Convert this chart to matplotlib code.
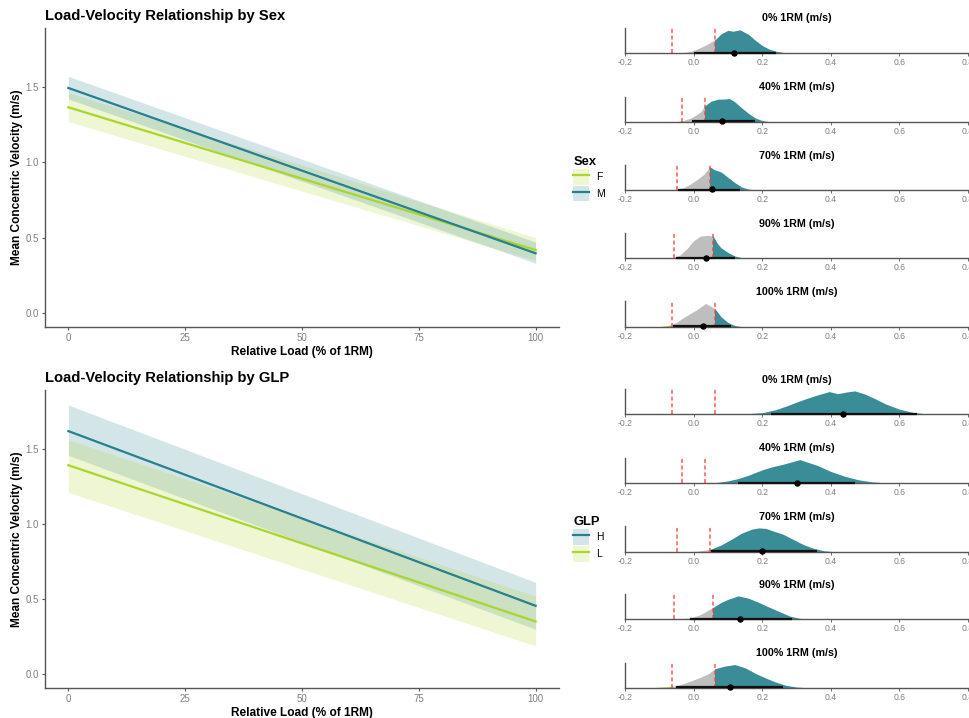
import numpy as np
import matplotlib
matplotlib.use("Agg")
import matplotlib.pyplot as plt
from matplotlib.patches import Patch, Rectangle
from matplotlib.lines import Line2D

plt.rcParams['font.family'] = ['Liberation Sans', 'DejaVu Sans']

# ---------------- data: line plots ----------------
load_x = [0, 100]
# Sex
sex_groups = ["F", "M"]
sex_fit = {"F": [1.365, 0.420], "M": [1.493, 0.398]}
sex_lo = {"F": [1.270, 0.350], "M": [1.420, 0.332]}
sex_hi = {"F": [1.462, 0.502], "M": [1.570, 0.472]}
# GLP
glp_groups = ["H", "L"]
glp_fit = {"H": [1.617, 0.456], "L": [1.390, 0.352]}
glp_lo = {"H": [1.456, 0.300], "L": [1.210, 0.190]}
glp_hi = {"H": [1.790, 0.612], "L": [1.560, 0.520]}

# ---------------- data: posterior densities ----------------
panel_titles = ["0% 1RM (m/s)", "40% 1RM (m/s)", "70% 1RM (m/s)",
                "90% 1RM (m/s)", "100% 1RM (m/s)"]
rope_sex = [0.063, 0.034, 0.049, 0.057, 0.063]
rope_glp = [0.063, 0.034, 0.049, 0.056, 0.062]

sex_dx = [
    [-0.06, -0.04, -0.02, 0.00, 0.02, 0.04, 0.063, 0.08, 0.10, 0.115, 0.135, 0.16, 0.18, 0.20, 0.22, 0.24, 0.26, 0.28, 0.30],
    [-0.05, -0.03, -0.01, 0.00, 0.02, 0.034, 0.05, 0.07, 0.09, 0.105, 0.12, 0.14, 0.16, 0.18, 0.20, 0.22],
    [-0.07, -0.05, -0.03, -0.01, 0.01, 0.03, 0.048, 0.06, 0.08, 0.10, 0.12, 0.14, 0.16, 0.18],
    [-0.08, -0.06, -0.04, -0.02, 0.00, 0.02, 0.04, 0.057, 0.07, 0.08, 0.10, 0.12, 0.14, 0.16],
    [-0.11, -0.09, -0.07, -0.05, -0.03, -0.01, 0.01, 0.035, 0.05, 0.063, 0.08, 0.10, 0.12, 0.14],
]
sex_dy = [
    [0.00, 0.02, 0.05, 0.12, 0.24, 0.38, 0.58, 0.82, 0.97, 0.93, 0.99, 0.80, 0.55, 0.33, 0.18, 0.09, 0.04, 0.01, 0.00],
    [0.00, 0.05, 0.15, 0.22, 0.42, 0.70, 0.88, 0.97, 0.98, 1.00, 0.86, 0.60, 0.36, 0.16, 0.05, 0.00],
    [0.00, 0.03, 0.10, 0.25, 0.45, 0.68, 1.00, 0.88, 0.78, 0.55, 0.32, 0.13, 0.04, 0.00],
    [0.00, 0.03, 0.14, 0.40, 0.75, 0.95, 0.98, 0.94, 0.62, 0.45, 0.25, 0.10, 0.03, 0.00],
    [0.00, 0.02, 0.06, 0.18, 0.38, 0.55, 0.72, 0.98, 0.86, 0.74, 0.42, 0.18, 0.05, 0.00],
]
sex_med = [0.117, 0.083, 0.055, 0.037, 0.027]
sex_int = [(0.000, 0.240), (-0.005, 0.180), (-0.045, 0.135), (-0.050, 0.120), (-0.060, 0.110)]

glp_dx = [
    [0.12, 0.16, 0.20, 0.24, 0.27, 0.30, 0.33, 0.36, 0.395, 0.42, 0.445, 0.47, 0.50, 0.53, 0.56, 0.60, 0.64, 0.68, 0.73],
    [0.03, 0.07, 0.10, 0.13, 0.16, 0.20, 0.23, 0.26, 0.29, 0.31, 0.33, 0.36, 0.40, 0.44, 0.48, 0.52, 0.56, 0.60],
    [-0.02, 0.01, 0.049, 0.08, 0.11, 0.14, 0.17, 0.19, 0.21, 0.23, 0.26, 0.29, 0.32, 0.35, 0.38, 0.41],
    [-0.07, -0.04, -0.01, 0.02, 0.056, 0.08, 0.10, 0.13, 0.16, 0.19, 0.22, 0.25, 0.28, 0.31, 0.34],
    [-0.13, -0.10, -0.07, -0.04, -0.01, 0.02, 0.045, 0.062, 0.09, 0.12, 0.15, 0.18, 0.21, 0.24, 0.27, 0.30, 0.33],
]
glp_dy = [
    [0.00, 0.03, 0.07, 0.20, 0.35, 0.52, 0.68, 0.82, 0.97, 0.88, 0.95, 1.00, 0.86, 0.66, 0.44, 0.22, 0.08, 0.02, 0.00],
    [0.00, 0.04, 0.10, 0.20, 0.34, 0.57, 0.70, 0.80, 0.92, 1.00, 0.90, 0.76, 0.50, 0.30, 0.15, 0.06, 0.02, 0.00],
    [0.00, 0.02, 0.10, 0.28, 0.52, 0.78, 0.95, 1.00, 0.98, 0.88, 0.74, 0.52, 0.30, 0.14, 0.04, 0.00],
    [0.00, 0.02, 0.06, 0.20, 0.50, 0.72, 0.85, 1.00, 0.90, 0.72, 0.52, 0.33, 0.14, 0.04, 0.00],
    [0.00, 0.02, 0.05, 0.12, 0.28, 0.45, 0.62, 0.82, 0.93, 1.00, 0.86, 0.62, 0.42, 0.24, 0.10, 0.03, 0.00],
]
glp_med = [0.435, 0.300, 0.200, 0.135, 0.105]
glp_int = [(0.225, 0.650), (0.130, 0.470), (0.050, 0.360), (-0.010, 0.287), (-0.050, 0.260)]

density_ticks = [-0.2, 0.0, 0.2, 0.4, 0.6, 0.8]
load_ticks = [0, 25, 50, 75, 100]
vel_ticks = [0.0, 0.5, 1.0, 1.5]

# ---------------- style ----------------
TEAL = "#2A7F8E"
LIME = "#AAD52A"
DENS_TEAL = "#3A8C96"
DENS_GREY = "#BEBEBE"
DENS_LIME = "#A8C83A"
SPINE = "#555555"
TICKLAB = "#808080"
group_col = {"F": LIME, "M": TEAL, "H": TEAL, "L": LIME}

W, H = 970, 718
fig = plt.figure(figsize=(W / 100, H / 100), dpi=100)


def ax_px(l, t, r, b):
    return fig.add_axes([l / W, 1 - b / H, (r - l) / W, (b - t) / H])


def line_panel(l, t, r, b, title, groups, fit, lo, hi, legend_title, leg_y):
    ax = ax_px(l, t, r, b)
    for g in groups:
        c = group_col[g]
        ax.fill_between(load_x, lo[g], hi[g], color=c, alpha=0.2, lw=0)
    for g in groups:
        ax.plot(load_x, fit[g], color=group_col[g], lw=1.6)
    ax.set_xlim(-5, 105)
    ax.set_ylim(-0.09, 1.89)
    ax.set_xticks(load_ticks)
    ax.set_xticklabels([str(v) for v in load_ticks])
    ax.set_yticks(vel_ticks)
    ax.set_yticklabels([f"{v:.1f}" for v in vel_ticks])
    for s in ["top", "right"]:
        ax.spines[s].set_visible(False)
    for s in ["left", "bottom"]:
        ax.spines[s].set_color(SPINE)
        ax.spines[s].set_linewidth(1.0)
    ax.tick_params(colors=SPINE, labelcolor=TICKLAB, labelsize=7.0, length=2.5, width=0.8, pad=2)
    ax.set_xlabel("Relative Load (% of 1RM)", fontsize=8.6, fontweight="bold", labelpad=2)
    ax.set_ylabel("Mean Concentric Velocity (m/s)", fontsize=8.6, fontweight="bold", labelpad=1.5)
    fig.text(l / W, 1 - (t - 12) / H, title, fontsize=10.6, fontweight="bold",
             ha="left", va="center")
    handles = []
    for g in groups:
        c = group_col[g]
        handles.append((Patch(facecolor=c, alpha=0.2, edgecolor="none"),
                        Line2D([], [], color=c, lw=1.6)))
    leg = fig.legend(handles, groups, title=legend_title, loc="upper left",
                     bbox_to_anchor=(569 / W, 1 - leg_y / H), frameon=False,
                     fontsize=7.5, title_fontsize=9.3, handlelength=1.5,
                     handleheight=1.9, handletextpad=0.7, labelspacing=0.12,
                     borderaxespad=0)
    leg.get_title().set_fontweight("bold")
    leg._legend_box.align = "left"
    return ax


line_panel(45, 28, 559, 327, "Load-Velocity Relationship by Sex",
           sex_groups, sex_fit, sex_lo, sex_hi, "Sex", 152)
line_panel(45, 390, 559, 688, "Load-Velocity Relationship by GLP",
           glp_groups, glp_fit, glp_lo, glp_hi, "GLP", 512)


def dens_panel(top, base, title, xs, ys, rope, med, intv):
    ax = ax_px(625, top, 968, base)
    for color, x0, x1 in [(DENS_LIME, -1, -rope), (DENS_GREY, -rope, rope), (DENS_TEAL, rope, 2)]:
        poly = ax.fill_between(xs, 0, ys, color=color, lw=0)
        poly.set_clip_path(Rectangle((x0, -1), x1 - x0, 3, transform=ax.transData))
    for v in (-rope, rope):
        ax.plot([v, v], [0, 1.1], color="#FF3A3A", lw=1.1, ls=(0, (2.6, 1.8)), alpha=0.85)
    ax.plot(list(intv), [0.01, 0.01], color="#111111", lw=1.6, solid_capstyle="butt", zorder=5, clip_on=False)
    ax.plot([med], [0.03], "o", color="black", ms=3.6, zorder=6, clip_on=False)
    ax.set_xlim(-0.2, 0.8)
    ax.set_ylim(0, 1.08)
    ax.set_yticks([])
    ax.set_xticks(density_ticks)
    ax.set_xticklabels([f"{v:.1f}" for v in density_ticks])
    for s in ["top", "right"]:
        ax.spines[s].set_visible(False)
    for s in ["left", "bottom"]:
        ax.spines[s].set_color(SPINE)
        ax.spines[s].set_linewidth(1.0)
    ax.tick_params(axis="x", colors=SPINE, labelcolor=TICKLAB, labelsize=6.2,
                   length=2, width=0.6, pad=1.5)
    ax.set_title(title, fontsize=7.7, fontweight="bold", pad=4.5)


sex_tops = [27.7, 96.7, 165, 233, 301]
sex_bases = [53.3, 121.7, 190, 258.3, 326.7]
glp_tops = [389, 457.7, 526, 594, 662.7]
glp_bases = [414.3, 483.3, 551.7, 619.3, 687.7]

for i in range(5):
    dens_panel(sex_tops[i], sex_bases[i], panel_titles[i], sex_dx[i], sex_dy[i],
               rope_sex[i], sex_med[i], sex_int[i])
    dens_panel(glp_tops[i], glp_bases[i], panel_titles[i], glp_dx[i], glp_dy[i],
               rope_glp[i], glp_med[i], glp_int[i])

fig.savefig("out.png", dpi=100)
